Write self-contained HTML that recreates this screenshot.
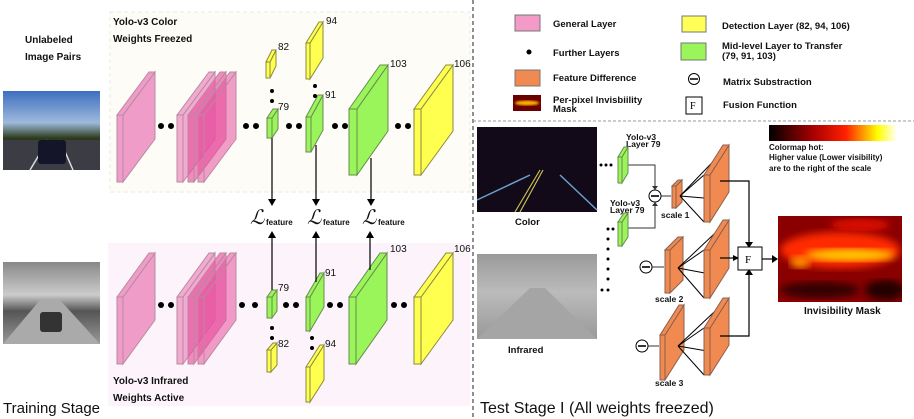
<!DOCTYPE html>
<html><head><meta charset="utf-8"><style>
body{margin:0;background:#fff;}
svg{display:block;font-family:"Liberation Sans",sans-serif;}
.b{font-weight:bold;fill:#111;}
</style></head><body>
<svg id="s" width="914" height="419" viewBox="0 0 914 419" xmlns="http://www.w3.org/2000/svg">
<defs>
<linearGradient id="hot" x1="0" x2="1" y1="0" y2="0">
<stop offset="0" stop-color="#000"/><stop offset="0.35" stop-color="#a00"/><stop offset="0.6" stop-color="#ff2000"/><stop offset="0.85" stop-color="#ffff00"/><stop offset="1" stop-color="#fff"/>
</linearGradient>
<filter id="bl"><feGaussianBlur stdDeviation="4"/></filter>
<filter id="bl2"><feGaussianBlur stdDeviation="1"/></filter>
<linearGradient id="sky" x1="0" x2="0" y1="0" y2="1"><stop offset="0" stop-color="#3d6fc0"/><stop offset="0.4" stop-color="#9fb9dc"/><stop offset="0.6" stop-color="#2a3a1a"/><stop offset="1" stop-color="#3a3a40"/></linearGradient>
<linearGradient id="ir" x1="0" x2="0" y1="0" y2="1"><stop offset="0" stop-color="#888"/><stop offset="0.4" stop-color="#ccc"/><stop offset="0.6" stop-color="#555"/><stop offset="1" stop-color="#999"/></linearGradient>
<linearGradient id="ir2" x1="0" x2="0" y1="0" y2="1"><stop offset="0" stop-color="#9a9a9a"/><stop offset="0.45" stop-color="#bbb"/><stop offset="1" stop-color="#999"/></linearGradient>
<clipPath id="mc"><rect x="778" y="216" width="124" height="86"/></clipPath>
<clipPath id="lc"><rect x="513" y="95" width="28" height="16"/></clipPath>
</defs>

<!-- panels -->
<rect x="110" y="12" width="360" height="180" fill="#fdfcf6" stroke="#eeeae0" stroke-dasharray="4,3"/>
<rect x="108" y="243" width="362" height="163" fill="#fcf4fa"/>
<line x1="473" y1="0" x2="473" y2="419" stroke="#222" stroke-dasharray="4,3"/>
<line x1="473" y1="121" x2="914" y2="121" stroke="#999" stroke-dasharray="3,2"/>

<g id="slabs"></g>

<!-- left images -->
<rect x="3" y="91" width="97" height="79" fill="url(#sky)"/>
<path d="M3 140 L100 140 L100 170 L3 170Z" fill="#3c3c44"/>
<path d="M30 170 L48 140 M73 170 L60 140" stroke="#ddd" stroke-width="1.5"/>
<rect x="38" y="140" width="28" height="24" rx="3" fill="#15152a"/>
<rect x="3" y="262" width="97" height="82" fill="url(#ir)"/>
<path d="M3 344 L40 300 L60 300 L100 344Z" fill="#aaa"/>
<rect x="40" y="312" width="22" height="20" rx="3" fill="#333"/>

<text class="b" x="25" y="43" font-size="10">Unlabeled</text>
<text class="b" x="25" y="60" font-size="10">Image Pairs</text>
<text class="b" x="113" y="25" font-size="10">Yolo-v3 Color</text>
<text class="b" x="113" y="42" font-size="10">Weights Freezed</text>
<text class="b" x="113" y="384" font-size="10">Yolo-v3 Infrared</text>
<text class="b" x="113" y="401" font-size="10">Weights Active</text>
<text x="3" y="413" font-size="15" fill="#111">Training Stage</text>

<g font-size="10" fill="#111">
<text x="278" y="50">82</text><text x="278" y="110">79</text>
<text x="326" y="24">94</text><text x="325" y="98">91</text>
<text x="390" y="67">103</text><text x="454" y="67">106</text>
<text x="278" y="291">79</text><text x="278" y="347">82</text>
<text x="325" y="276">91</text><text x="325" y="347">94</text>
<text x="390" y="252">103</text><text x="454" y="252">106</text>
</g>

<!-- dots -->
<g fill="#000">
<circle cx="161" cy="126" r="3"/><circle cx="171" cy="126" r="3"/>
<circle cx="246" cy="126" r="3"/><circle cx="256" cy="126" r="3"/>
<circle cx="289" cy="126" r="3"/><circle cx="299" cy="126" r="3"/>
<circle cx="335" cy="126" r="3"/><circle cx="345" cy="126" r="3"/>
<circle cx="398" cy="126" r="3"/><circle cx="408" cy="126" r="3"/>
<circle cx="272" cy="91" r="2"/><circle cx="272" cy="101" r="2"/>
<circle cx="315" cy="86" r="2"/><circle cx="315" cy="96" r="2"/>
<circle cx="161" cy="305" r="3"/><circle cx="171" cy="305" r="3"/>
<circle cx="242" cy="305" r="3"/><circle cx="255" cy="305" r="3"/>
<circle cx="286" cy="305" r="3"/><circle cx="296" cy="305" r="3"/>
<circle cx="330" cy="305" r="3"/><circle cx="340" cy="305" r="3"/>
<circle cx="394" cy="305" r="3"/><circle cx="404" cy="305" r="3"/>
<circle cx="272" cy="328" r="2"/><circle cx="272" cy="338" r="2"/>
<circle cx="312" cy="338" r="2"/><circle cx="312" cy="348" r="2"/>
</g>

<!-- arrows to loss -->
<g stroke="#000" stroke-width="1.2">
<line x1="272" y1="138" x2="272" y2="200"/><line x1="316" y1="145" x2="316" y2="200"/><line x1="371" y1="158" x2="371" y2="200"/>
<line x1="272" y1="290" x2="272" y2="237"/><line x1="316" y1="282" x2="316" y2="237"/><line x1="370" y1="270" x2="370" y2="237"/>
</g>
<g fill="#000">
<path d="M268 199 L276 199 L272 206Z"/><path d="M312 199 L320 199 L316 206Z"/><path d="M367 199 L375 199 L371 206Z"/>
<path d="M268 238 L276 238 L272 231Z"/><path d="M312 238 L320 238 L316 231Z"/><path d="M366 238 L374 238 L370 231Z"/>
</g>
<g fill="#111">
<text x="250" y="224" font-family="Liberation Serif,serif" font-style="italic" font-size="20">ℒ</text><text x="266" y="225" font-size="8" font-weight="bold">feature</text>
<text x="307" y="224" font-family="Liberation Serif,serif" font-style="italic" font-size="20">ℒ</text><text x="323" y="225" font-size="8" font-weight="bold">feature</text>
<text x="362" y="224" font-family="Liberation Serif,serif" font-style="italic" font-size="20">ℒ</text><text x="378" y="225" font-size="8" font-weight="bold">feature</text>
</g>

<!-- legend -->
<rect x="515" y="15" width="25" height="16" fill="#f49ac8" stroke="#777"/>
<text class="b" x="553" y="27" font-size="9.5">General Layer</text>
<circle cx="529" cy="52" r="2.5" fill="#000"/>
<text class="b" x="553" y="56" font-size="9.5">Further Layers</text>
<rect x="515" y="70" width="25" height="16" fill="#f08a50" stroke="#777"/>
<text class="b" x="553" y="81" font-size="9.5">Feature Difference</text>
<g clip-path="url(#lc)"><rect x="513" y="95" width="28" height="16" fill="#6a0000"/><ellipse cx="527" cy="103" rx="12" ry="2.5" fill="#ffb000" filter="url(#bl2)"/></g>
<text class="b" x="553" y="103" font-size="9.5">Per-pixel Invisbiility</text>
<text class="b" x="553" y="112" font-size="9.5">Mask</text>
<rect x="682" y="16" width="24" height="16" fill="#ffff55" stroke="#777"/>
<text class="b" x="722" y="29" font-size="9.5">Detection Layer (82, 94, 106)</text>
<rect x="681" y="43" width="25" height="17" fill="#99f55a" stroke="#777"/>
<text class="b" x="722" y="49" font-size="9.5">Mid-level Layer to Transfer</text>
<text class="b" x="722" y="59" font-size="9.5">(79, 91, 103)</text>
<circle cx="694" cy="79" r="5.5" fill="#fff" stroke="#000"/><line x1="690" y1="79" x2="698" y2="79" stroke="#000" stroke-width="1.5"/>
<text class="b" x="723" y="85" font-size="9.5">Matrix Substraction</text>
<rect x="686" y="97" width="16" height="17" fill="#fff" stroke="#000"/>
<text x="690" y="109" font-size="10" font-family="Liberation Serif,serif">F</text>
<text class="b" x="723" y="108" font-size="9.5">Fusion Function</text>

<!-- test stage -->
<rect x="477" y="127" width="120" height="85" fill="#120a18"/>
<path d="M477 200 L530 175 M560 175 L597 210" stroke="#6aa0d0" stroke-width="1.5"/>
<path d="M515 212 L540 170 M520 212 L543 170" stroke="#c8c050" stroke-width="1.2"/>
<text class="b" x="515" y="225" font-size="9.5">Color</text>
<rect x="477" y="254" width="120" height="85" fill="url(#ir2)"/>
<path d="M477 339 L530 288 L545 288 L597 339Z" fill="#a5a5a5"/>
<text class="b" x="508" y="353" font-size="9.5">Infrared</text>

<g fill="#000">
<circle cx="601" cy="165" r="1.5"/><circle cx="606" cy="165" r="1.5"/><circle cx="611" cy="165" r="1.5"/>
<circle cx="608" cy="229" r="1.5"/><circle cx="613" cy="229" r="1.5"/>
<circle cx="608" cy="239" r="1.5"/><circle cx="608" cy="249" r="1.5"/><circle cx="608" cy="259" r="1.5"/><circle cx="608" cy="269" r="1.5"/><circle cx="608" cy="279" r="1.5"/>
<circle cx="602" cy="290" r="1.5"/><circle cx="608" cy="290" r="1.5"/>
</g>
<g font-size="8.5" class="b">
<text x="626" y="140">Yolo-v3</text><text x="626" y="147">Layer 79</text>
<text x="610" y="206">Yolo-v3</text><text x="610" y="213">Layer 79</text>
<text x="661" y="218">scale 1</text><text x="655" y="302">scale 2</text><text x="655" y="386">scale 3</text>
</g>
<g stroke="#333" fill="none" stroke-width="1">
<path d="M628 165 L655 165 L655 188"/><path d="M628 228 L655 228 L655 204"/>
<path d="M661 196 L671 196"/><path d="M652 267 L664 267"/><path d="M648 346 L659 346"/>
</g>
<g fill="#333"><path d="M652 186 L658 186 L655 190Z"/><path d="M652 206 L658 206 L655 202Z"/></g>
<g fill="#fff" stroke="#000">
<circle cx="655" cy="196" r="6"/><circle cx="646" cy="267" r="6"/><circle cx="642" cy="346" r="6"/>
</g>
<g stroke="#000" stroke-width="1.6"><line x1="651" y1="196" x2="659" y2="196"/><line x1="642" y1="267" x2="650" y2="267"/><line x1="638" y1="346" x2="646" y2="346"/></g>

<g id="tslabs"></g>

<!-- fusion -->
<g stroke="#000" fill="none" stroke-width="1.2">
<path d="M720 181 L749 181 L749 243"/><path d="M720 336 L749 336 L749 274"/>
<path d="M720 258 L734 258"/><path d="M762 259 L774 259"/>
</g>
<g fill="#000"><path d="M745 242 L753 242 L749 248Z"/><path d="M745 275 L753 275 L749 269Z"/><path d="M733 255 L739 258 L733 261Z"/><path d="M772 255 L778 259 L772 263Z"/></g>
<rect x="738" y="247" width="24" height="23" fill="#fff" stroke="#000"/>
<text x="745" y="263" font-size="11" font-family="Liberation Serif,serif">F</text>

<!-- mask -->
<g clip-path="url(#mc)">
<rect x="778" y="216" width="124" height="86" fill="#8a0000"/>
<ellipse cx="840" cy="250" rx="60" ry="18" fill="#ff2a00" filter="url(#bl)"/>
<ellipse cx="850" cy="255" rx="45" ry="6" fill="#ffd000" filter="url(#bl)"/>
<ellipse cx="800" cy="262" rx="10" ry="6" fill="#ff9000" filter="url(#bl)"/>
<ellipse cx="820" cy="290" rx="40" ry="8" fill="#300000" filter="url(#bl)"/>
<ellipse cx="885" cy="290" rx="20" ry="10" fill="#200000" filter="url(#bl)"/>
<ellipse cx="860" cy="225" rx="30" ry="6" fill="#e01000" filter="url(#bl)"/>
</g>
<text class="b" x="804" y="314" font-size="10">Invisibility Mask</text>
<rect x="769" y="125" width="128" height="16" fill="url(#hot)"/>
<text class="b" x="769" y="150" font-size="8">Colormap hot:</text>
<text class="b" x="769" y="160" font-size="8">Higher value (Lower visibility)</text>
<text class="b" x="769" y="171" font-size="8">are to the right of the scale</text>
<text x="480" y="413" font-size="16" fill="#111">Test Stage I (All weights freezed)</text>
</svg>
<script>
var NS="http://www.w3.org/2000/svg";
function slab(g,x,y,w,h,dx,dy,fill,stroke,op){
 var gg=document.createElementNS(NS,"g");
 gg.setAttribute("fill",fill);gg.setAttribute("stroke",stroke);gg.setAttribute("stroke-width","1");
 if(op)gg.setAttribute("fill-opacity",op);
 var p=function(pts){var e=document.createElementNS(NS,"polygon");e.setAttribute("points",pts);gg.appendChild(e);};
 p((x+w)+","+y+" "+(x+w+dx)+","+(y-dy)+" "+(x+w+dx)+","+(y+h-dy)+" "+(x+w)+","+(y+h));
 p(x+","+y+" "+(x+dx)+","+(y-dy)+" "+(x+w+dx)+","+(y-dy)+" "+(x+w)+","+y);
 p(x+","+y+" "+(x+w)+","+y+" "+(x+w)+","+(y+h)+" "+x+","+(y+h));
 document.getElementById(g).appendChild(gg);
}
var PK="#f09cc8",PS="#b88aa0",GR="#99f55a",GS="#6a8a50",YE="#ffff50",YS="#8a8a40",OR="#f08a50",OS="#8a6050";
[[115,43,32],[297,44,32]].forEach(function(a){
 var y=a[0];
 slab("slabs",117,y,6,67,a[2],a[1],PK,PS);
 slab("slabs",177,y,6,67,a[2],a[1],PK,PS,0.85);
 slab("slabs",188,y,6,67,a[2],a[1],"#e8509e",PS,0.65);
 slab("slabs",198,y,6,67,a[2],a[1],"#e8509e",PS,0.55);
});
slab("slabs",267,118,5,20,6,9,GR,GS);
slab("slabs",266,62,4,16,6,12,YE,YS);
slab("slabs",306,117,5,35,12,22,GR,GS);
slab("slabs",306,43,4,36,13,21,YE,YS);
slab("slabs",349,109,8,66,31,44,GR,GS);
slab("slabs",414,109,7,66,32,44,YE,YS);
slab("slabs",267,297,5,21,5,7,GR,GS);
slab("slabs",267,350,4,22,6,7,YE,YS);
slab("slabs",306,297,4,34,14,24,GR,GS);
slab("slabs",306,367,4,35,14,22,YE,YS);
slab("slabs",349,297,7,67,31,44,GR,GS);
slab("slabs",414,297,7,67,32,44,YE,YS);
slab("tslabs",618,157,4,26,6,10,GR,GS);
slab("tslabs",618,222,4,24,6,9,GR,GS);
function fan(ax,ay,bx,by,h,dx,dy){
 var pts=[[bx,by],[bx+6+dx,by-dy],[bx,by+h],[bx+6,by+h/2]];
 pts.forEach(function(q){var l=document.createElementNS(NS,"line");l.setAttribute("x1",ax);l.setAttribute("y1",ay);l.setAttribute("x2",q[0]);l.setAttribute("y2",q[1]);l.setAttribute("stroke","#000");document.getElementById("tslabs").appendChild(l);});
}
slab("tslabs",672,186,4,22,6,6,OR,OS);
fan(680,196,704,175,47,19,30);
slab("tslabs",704,175,6,47,19,30,OR,OS);
slab("tslabs",665,250,5,43,13,13,OR,OS);
fan(678,268,704,250,48,19,30);
slab("tslabs",704,250,6,48,19,30,OR,OS);
slab("tslabs",660,335,5,45,19,30,OR,OS);
fan(678,346,704,328,47,19,30);
slab("tslabs",704,328,6,47,19,30,OR,OS);
</script>
</body></html>
